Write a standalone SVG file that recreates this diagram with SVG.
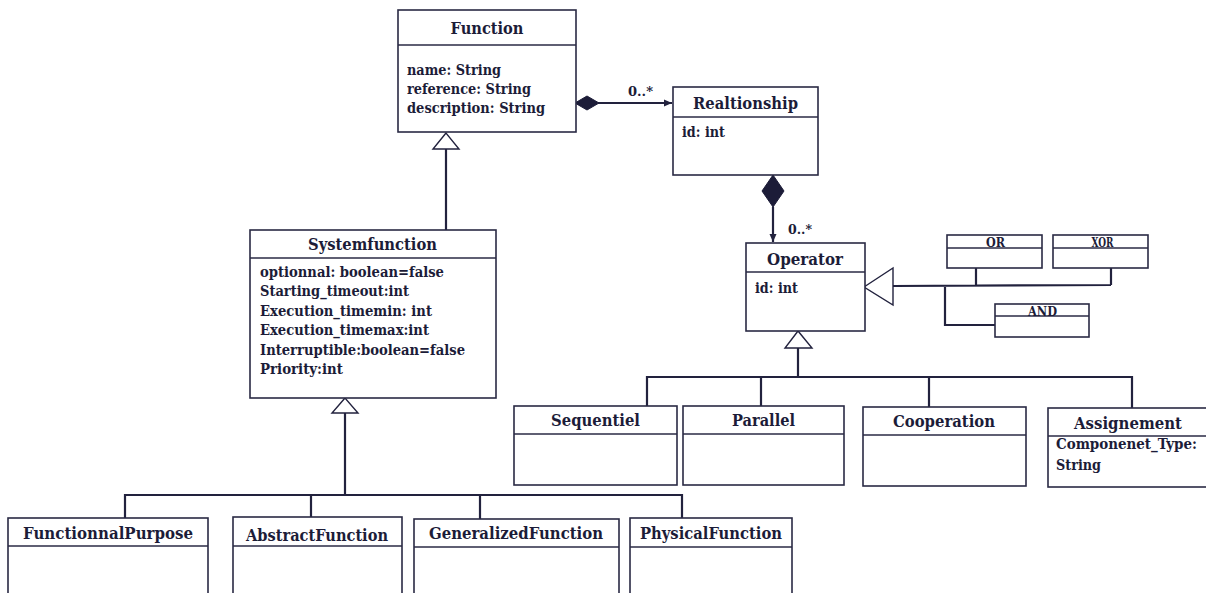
<svg xmlns="http://www.w3.org/2000/svg" width="1206" height="593" viewBox="0 0 1206 593">
<style>
  .box { fill: #ffffff; stroke: #2a2a44; stroke-width: 1.6; }
  .div { stroke: #2a2a44; stroke-width: 1.4; }
  .t { font-family: "DejaVu Serif", "Liberation Serif", serif; font-weight: bold; fill: #1c1c38; }
  .title { font-size: 16px; text-anchor: middle; }
  .attr { font-size: 14px; }
  .small { font-size: 12.5px; text-anchor: middle; }
  .mult { font-size: 13px; }
  .conn { fill: none; stroke: #22223e; stroke-width: 2.2; }
  .gen { fill: #ffffff; stroke: #22223e; stroke-width: 1.4; }
  .dia { fill: #1c1c38; stroke: #1c1c38; stroke-width: 1; }
</style>
<defs>
  <marker id="arr" viewBox="0 0 8 8" refX="8" refY="4" markerWidth="8" markerHeight="8" markerUnits="userSpaceOnUse" orient="auto">
    <path d="M0,0.5 L8,4 L0,7.5 Z" fill="#22223e"/>
  </marker>
</defs>
<rect width="1206" height="593" fill="#ffffff"/>

<g id="connectors">
  <path class="conn" d="M598,103 L672,103" marker-end="url(#arr)"/>
  <polygon class="dia" points="575,103 587,96 599,103 587,110"/>
  <text class="t mult" x="628" y="96" textLength="25" lengthAdjust="spacingAndGlyphs">0..*</text>
  <path class="conn" d="M773,207 L773,242" marker-end="url(#arr)"/>
  <polygon class="dia" points="773,175 784,191 773,207 762,191"/>
  <text class="t mult" x="788" y="234" textLength="24" lengthAdjust="spacingAndGlyphs">0..*</text>
  <path class="conn" d="M446,149 L446,230"/>
  <polygon class="gen" points="446,133 433,149 459,149"/>
  <path class="conn" d="M345,413 L345,495 M125,518 L125,495 L682,495 L682,518 M311,495 L311,517 M480,495 L480,519"/>
  <polygon class="gen" points="345,398 332,413 358,413"/>
  <path class="conn" d="M798,348 L798,377 M647,406 L647,377 L1132,377 L1132,408 M761,377 L761,406 M929,377 L929,407"/>
  <polygon class="gen" points="798,331 785,348 812,348"/>
  <path class="conn" d="M893,286 L1111,285 M976,268 L976,286 M1111,268 L1111,285 M945,286 L945,325 L995,325"/>
  <polygon class="gen" points="864,287 893,268 893,305"/>
</g>

<g id="Function">
  <rect class="box" x="398" y="10" width="178" height="122"/>
  <line class="div" x1="398" y1="45" x2="576" y2="45"/>
  <text class="t title" x="487" y="34" textLength="73" lengthAdjust="spacingAndGlyphs">Function</text>
  <text class="t attr" x="407" y="75" font-size="15" textLength="94" lengthAdjust="spacingAndGlyphs">name: String</text>
  <text class="t attr" x="407" y="94" font-size="15" textLength="124" lengthAdjust="spacingAndGlyphs">reference: String</text>
  <text class="t attr" x="407" y="113" font-size="15" textLength="138" lengthAdjust="spacingAndGlyphs">description: String</text>
</g>

<g id="Realtionship">
  <rect class="box" x="673" y="87" width="145" height="88"/>
  <line class="div" x1="673" y1="117" x2="818" y2="117"/>
  <text class="t title" x="745.5" y="109" textLength="105" lengthAdjust="spacingAndGlyphs">Realtionship</text>
  <text class="t attr" x="682" y="137" textLength="43" lengthAdjust="spacingAndGlyphs">id: int</text>
</g>

<g id="Systemfunction">
  <rect class="box" x="250" y="230" width="246" height="168"/>
  <line class="div" x1="250" y1="258" x2="496" y2="258"/>
  <text class="t title" x="372.5" y="250" textLength="129" lengthAdjust="spacingAndGlyphs">Systemfunction</text>
  <text class="t attr" x="260" y="277" textLength="184" lengthAdjust="spacingAndGlyphs">optionnal: boolean=false</text>
  <text class="t attr" x="260" y="296" textLength="149" lengthAdjust="spacingAndGlyphs">Starting_timeout:int</text>
  <text class="t attr" x="260" y="316" textLength="172" lengthAdjust="spacingAndGlyphs">Execution_timemin: int</text>
  <text class="t attr" x="260" y="335" textLength="169" lengthAdjust="spacingAndGlyphs">Execution_timemax:int</text>
  <text class="t attr" x="260" y="355" textLength="205" lengthAdjust="spacingAndGlyphs">Interruptible:boolean=false</text>
  <text class="t attr" x="260" y="374" textLength="83" lengthAdjust="spacingAndGlyphs">Priority:int</text>
</g>

<g id="Operator">
  <rect class="box" x="746" y="243" width="119" height="88"/>
  <line class="div" x1="746" y1="272" x2="865" y2="272"/>
  <text class="t title" x="805" y="265" textLength="76" lengthAdjust="spacingAndGlyphs">Operator</text>
  <text class="t attr" x="755" y="293" textLength="43" lengthAdjust="spacingAndGlyphs">id: int</text>
</g>

<g id="OR">
  <rect class="box" x="947" y="235" width="95" height="33"/>
  <line class="div" x1="947" y1="248" x2="1042" y2="248"/>
  <text class="t small" x="995.5" y="246.5" textLength="19" lengthAdjust="spacingAndGlyphs">OR</text>
</g>

<g id="XOR">
  <rect class="box" x="1053" y="235" width="95" height="33"/>
  <line class="div" x1="1053" y1="248" x2="1148" y2="248"/>
  <text class="t small" x="1102.5" y="246.5" textLength="22" lengthAdjust="spacingAndGlyphs">XOR</text>
</g>

<g id="AND">
  <rect class="box" x="995" y="304" width="94" height="33"/>
  <line class="div" x1="995" y1="316" x2="1089" y2="316"/>
  <text class="t small" x="1042.5" y="315.5" textLength="29" lengthAdjust="spacingAndGlyphs">AND</text>
</g>

<g id="Sequentiel">
  <rect class="box" x="514" y="406" width="163" height="79"/>
  <line class="div" x1="514" y1="434" x2="677" y2="434"/>
  <text class="t title" x="595.5" y="426" textLength="89" lengthAdjust="spacingAndGlyphs">Sequentiel</text>
</g>

<g id="Parallel">
  <rect class="box" x="683" y="406" width="161" height="79"/>
  <line class="div" x1="683" y1="434" x2="844" y2="434"/>
  <text class="t title" x="763.5" y="426" textLength="63" lengthAdjust="spacingAndGlyphs">Parallel</text>
</g>

<g id="Cooperation">
  <rect class="box" x="863" y="407" width="163" height="79"/>
  <line class="div" x1="863" y1="435" x2="1026" y2="435"/>
  <text class="t title" x="944" y="427" textLength="102" lengthAdjust="spacingAndGlyphs">Cooperation</text>
</g>

<g id="Assignement">
  <rect class="box" x="1048" y="408" width="170" height="79"/>
  <line class="div" x1="1048" y1="436" x2="1218" y2="436"/>
  <text class="t title" x="1128" y="429" textLength="108" lengthAdjust="spacingAndGlyphs">Assignement</text>
  <text class="t attr" x="1056" y="449" font-size="13" textLength="141" lengthAdjust="spacingAndGlyphs">Componenet_Type:</text>
  <text class="t attr" x="1056" y="470" font-size="13" textLength="45" lengthAdjust="spacingAndGlyphs">String</text>
</g>

<g id="FunctionnalPurpose">
  <rect class="box" x="8" y="518" width="200" height="90"/>
  <line class="div" x1="8" y1="546" x2="208" y2="546"/>
  <text class="t title" x="108" y="539" textLength="170" lengthAdjust="spacingAndGlyphs">FunctionnalPurpose</text>
</g>

<g id="AbstractFunction">
  <rect class="box" x="233" y="517" width="169" height="90"/>
  <line class="div" x1="233" y1="546" x2="402" y2="546"/>
  <text class="t title" x="317" y="541" textLength="142" lengthAdjust="spacingAndGlyphs">AbstractFunction</text>
</g>

<g id="GeneralizedFunction">
  <rect class="box" x="414" y="519" width="205" height="90"/>
  <line class="div" x1="414" y1="547" x2="619" y2="547"/>
  <text class="t title" x="516" y="539" textLength="174" lengthAdjust="spacingAndGlyphs">GeneralizedFunction</text>
</g>

<g id="PhysicalFunction">
  <rect class="box" x="630" y="518" width="162" height="90"/>
  <line class="div" x1="630" y1="547" x2="792" y2="547"/>
  <text class="t title" x="711" y="539" textLength="142" lengthAdjust="spacingAndGlyphs">PhysicalFunction</text>
</g>
</svg>
